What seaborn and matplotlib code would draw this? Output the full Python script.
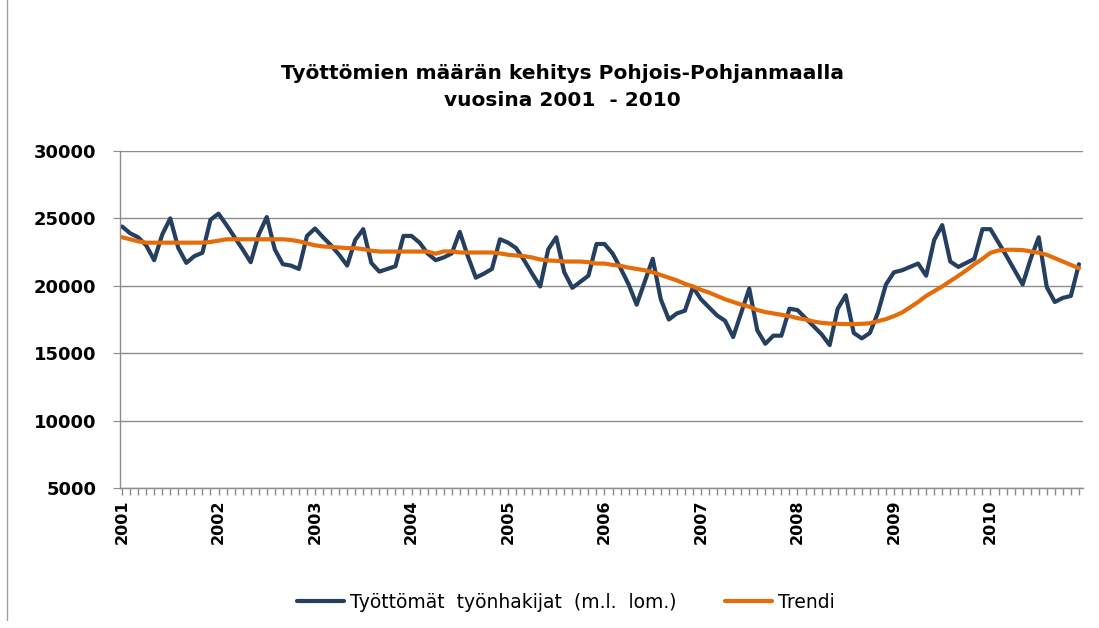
"""
Työttömien määrän kehitys Pohjois-Pohjanmaalla 2001-2010.
Kuukausittaiset työttömät työnhakijat ja trendi.
"""

import numpy as np
import pandas as pd
import seaborn as sns
import matplotlib.pyplot as plt
from matplotlib.lines import Line2D


YEARS = [str(y) for y in range(2001, 2011)]

# monthly values, one row per year (Jan..Dec)
TYOTTOMAT = [
    24400, 23900, 23600, 23000, 21900, 23800, 25000, 22800, 21700, 22200, 22450, 24900,
    25350, 24500, 23600, 22700, 21750, 23800, 25100, 22700, 21600, 21500, 21250, 23700,
    24250, 23600, 23000, 22300, 21500, 23400, 24200, 21700, 21050, 21250, 21450, 23700,
    23700, 23200, 22400, 21900, 22100, 22400, 24000, 22200, 20600, 20900, 21250, 23450,
    23200, 22800, 21900, 20900, 19950, 22700, 23600, 21000, 19850, 20300, 20750, 23100,
    23100, 22400, 21300, 20100, 18600, 20300, 22000, 19000, 17500, 17950, 18150, 19900,
    19000, 18400, 17800, 17400, 16200, 18000, 19800, 16700, 15700, 16300, 16300, 18300,
    18200, 17600, 17000, 16400, 15600, 18300, 19300, 16500, 16100, 16500, 18000, 20100,
    21000, 21150, 21400, 21650, 20750, 23400, 24500, 21800, 21400, 21700, 22000, 24200,
    24200, 23200, 22200, 21150, 20100, 22000, 23600, 19900, 18800, 19100, 19250, 21600,
]

TRENDI = [
    23600, 23450, 23300, 23200, 23200, 23200, 23200, 23200, 23200, 23200, 23200, 23250,
    23350, 23450, 23450, 23450, 23450, 23450, 23450, 23450, 23450, 23400, 23300, 23150,
    23000, 22920, 22880, 22840, 22800, 22790, 22720, 22600, 22540, 22540, 22540, 22540,
    22540, 22540, 22540, 22380, 22550, 22550, 22470, 22470, 22470, 22470, 22470, 22400,
    22300, 22250, 22200, 22100, 21950, 21880, 21850, 21800, 21800, 21800, 21750, 21650,
    21650, 21550, 21480, 21350, 21250, 21150, 21000, 20800, 20600, 20400, 20150, 19950,
    19700, 19500, 19250, 19000, 18800, 18600, 18450, 18200, 18050, 17950, 17850, 17750,
    17600, 17500, 17350, 17250, 17200, 17180, 17160, 17160, 17180, 17220, 17380, 17530,
    17750, 18020, 18400, 18800, 19250, 19600, 19950, 20350, 20740, 21150, 21600, 22000,
    22450, 22620, 22670, 22670, 22650, 22550, 22450, 22300, 22050, 21800, 21550, 21300,
]

SERIES = ["Työttömät  työnhakijat  (m.l.  lom.)", "Trendi"]
Y_TICKS = [5000, 10000, 15000, 20000, 25000, 30000]

BLUE = "#243F60"
ORANGE = "#E46C0A"
GRID = "#8C8C8C"


def main():
    sns.set_style("white")
    plt.rcParams["font.family"] = ["DejaVu Sans"]
    plt.rcParams["text.color"] = "black"
    plt.rcParams["xtick.color"] = "black"
    plt.rcParams["ytick.color"] = "black"

    months = np.arange(len(TYOTTOMAT))
    df = pd.DataFrame({
        "kk": np.concatenate([months, months]),
        "arvo": TYOTTOMAT + TRENDI,
        "sarja": [SERIES[0]] * len(TYOTTOMAT) + [SERIES[1]] * len(TRENDI),
    })

    fig = plt.figure(figsize=(10.99, 6.28), dpi=100)
    ax = fig.add_axes([0.1092, 0.2229, 0.8762, 0.5367])

    sns.lineplot(
        data=df, x="kk", y="arvo", hue="sarja",
        palette=[BLUE, ORANGE], linewidth=3, ax=ax,
    )

    ax.set_xlim(-0.25, 119.5)
    ax.set_ylim(5000, 30000)
    ax.set_yticks(Y_TICKS)
    ax.set_yticklabels([str(v) for v in Y_TICKS], fontsize=13, fontweight="bold")
    ax.set_xticks(months[::12])
    ax.set_xticklabels(YEARS, rotation=90, fontsize=11.5, fontweight="bold")
    ax.set_xticks(months, minor=True)
    ax.set_xlabel("")
    ax.set_ylabel("")

    ax.grid(axis="y", color=GRID, linewidth=1)
    ax.grid(axis="x", visible=False)
    ax.set_axisbelow(True)
    for side in ["top", "right"]:
        ax.spines[side].set_visible(False)
    for side in ["left", "bottom"]:
        ax.spines[side].set_color(GRID)
        ax.spines[side].set_linewidth(1)

    ax.tick_params(axis="y", left=True, length=5, color=GRID, pad=12)
    ax.tick_params(axis="x", which="both", bottom=True, length=5,
                   width=1, color=GRID, pad=3)

    fig.text(
        0.512, 0.862,
        "Työttömien määrän kehitys Pohjois-Pohjanmaalla\nvuosina 2001  - 2010",
        ha="center", va="center", fontsize=14.5, fontweight="bold",
        linespacing=1.55,
    )

    handles = [
        Line2D([], [], color=BLUE, linewidth=3),
        Line2D([], [], color=ORANGE, linewidth=3),
    ]
    ax.legend(
        handles, SERIES,
        loc="center", bbox_to_anchor=(0.515, 0.041),
        bbox_transform=fig.transFigure, ncol=2, frameon=False,
        fontsize=13.5, handlelength=2.5, handletextpad=0.3, columnspacing=2.6,
    )

    # chart frame edge on the left
    fig.add_artist(Line2D([7 / 1099, 7 / 1099], [1 - 620 / 628, 1.0],
                          color="#A0A0A0", linewidth=1))

    fig.savefig("out.png", dpi=100)


if __name__ == "__main__":
    main()
